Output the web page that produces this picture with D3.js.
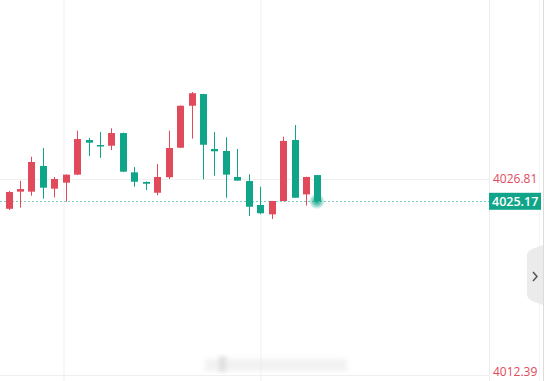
<!DOCTYPE html>
<html>
<head>
<meta charset="utf-8">
<script src="https://cdn.jsdelivr.net/npm/d3@7"></script>
<style>
  body { margin: 0; background: #fff; }
  svg { display: block; font-family: "Open Sans", "Noto Sans", sans-serif; }
</style>
</head>
<body>
<svg id="chart" width="556" height="381"></svg>
<script>
// candle data, oldest first
var opens  = [4024.62, 4025.88, 4025.88, 4027.77, 4026.10, 4026.54, 4027.13, 4029.68, 4029.31, 4029.26,
              4030.19, 4027.30, 4026.59, 4025.80, 4026.94, 4029.11, 4032.20, 4033.06, 4029.02, 4028.87,
              4026.96, 4026.66, 4024.90, 4024.21, 4025.19, 4029.68, 4025.68, 4027.10];
var closes = [4025.85, 4026.07, 4028.06, 4026.17, 4026.81, 4027.13, 4029.75, 4029.48, 4029.24, 4030.19,
              4027.35, 4026.61, 4026.46, 4026.96, 4029.09, 4032.20, 4033.12, 4029.33, 4028.85, 4027.13,
              4026.69, 4024.77, 4024.29, 4025.19, 4029.61, 4025.43, 4026.96, 4025.17];
var highs  = [4025.93, 4026.68, 4028.45, 4029.09, 4026.96, 4027.15, 4030.36, 4029.83, 4030.27, 4030.54,
              4030.22, 4027.69, 4026.63, 4027.91, 4030.36, 4032.22, 4033.21, 4033.08, 4030.27, 4029.88,
              4029.02, 4027.16, 4026.24, 4025.20, 4029.92, 4030.78, 4026.98, 4027.10];
var lows   = [4024.53, 4024.70, 4025.58, 4025.36, 4025.46, 4025.14, 4027.10, 4028.50, 4028.36, 4028.94,
              4027.32, 4026.24, 4026.00, 4025.61, 4026.81, 4029.09, 4029.78, 4026.79, 4027.05, 4025.43,
              4026.69, 4024.09, 4024.21, 4023.87, 4025.17, 4025.43, 4024.85, 4025.17];

var lastPrice = 4025.17;
var refPrice = 4026.81;   // red label with gridline
var lowLabel = 4012.39;   // bottom label
var priceLabels = [refPrice, lowLabel];

var red = '#e04a5a';
var green = '#10a589';

var width = 556, height = 381;
var plotRight = 489;

var svg = d3.select('#chart');

var x = d3.scaleLinear().domain([0, opens.length - 1]).range([8.5, 317.4]);
var y = d3.scaleLinear().domain([lowLabel, refPrice]).range([375, 179]);

// gradient for the glowing last point
var defs = svg.append('defs');
var grad = defs.append('radialGradient').attr('id', 'glow');
grad.append('stop').attr('offset', '0%').attr('stop-color', green).attr('stop-opacity', 0.95);
grad.append('stop').attr('offset', '45%').attr('stop-color', green).attr('stop-opacity', 0.6);
grad.append('stop').attr('offset', '100%').attr('stop-color', green).attr('stop-opacity', 0);
defs.append('filter').attr('id', 'blur')
  .append('feGaussianBlur').attr('stdDeviation', 2.5);

// grid
var grid = svg.append('g');
[64, 261].forEach(function (gx) {
  grid.append('line').attr('x1', gx).attr('x2', gx).attr('y1', 0).attr('y2', height)
    .attr('stroke', '#f1f1f1').attr('stroke-width', 1);
});
priceLabels.forEach(function (p) {
  grid.append('line').attr('x1', 0).attr('x2', plotRight)
    .attr('y1', Math.round(y(p)) + 0.5).attr('y2', Math.round(y(p)) + 0.5)
    .attr('stroke', '#efefef').attr('stroke-width', 1);
});

// faint watermark at the bottom
var wm = svg.append('g').attr('filter', 'url(#blur)').attr('opacity', 0.5);
wm.append('rect').attr('x', 205).attr('y', 359).attr('width', 142).attr('height', 12)
  .attr('fill', '#e4e4e4');
wm.append('rect').attr('x', 219).attr('y', 356).attr('width', 7).attr('height', 16)
  .attr('fill', '#bdbdbd');

// last price dashed line
svg.append('line')
  .attr('x1', 0).attr('x2', plotRight)
  .attr('y1', Math.round(y(lastPrice)) + 0.5).attr('y2', Math.round(y(lastPrice)) + 0.5)
  .attr('stroke', '#7ccdbd').attr('stroke-width', 1)
  .attr('stroke-dasharray', '2,2');

// candles
var idx = d3.range(opens.length);
var bodyW = 7;
var candles = svg.append('g').selectAll('g').data(idx).enter().append('g');

candles.append('line')
  .attr('x1', function (i) { return Math.round(x(i)) + 0.5; })
  .attr('x2', function (i) { return Math.round(x(i)) + 0.5; })
  .attr('y1', function (i) { return y(highs[i]); })
  .attr('y2', function (i) { return y(lows[i]); })
  .attr('stroke', function (i) { return closes[i] >= opens[i] ? red : green; })
  .attr('stroke-width', 1);

candles.append('rect')
  .attr('x', function (i) { return Math.round(x(i)) + 0.5 - bodyW / 2; })
  .attr('width', bodyW)
  .attr('y', function (i) { return y(Math.max(opens[i], closes[i])); })
  .attr('height', function (i) { return Math.max(1.5, Math.abs(y(opens[i]) - y(closes[i]))); })
  .attr('fill', function (i) { return closes[i] >= opens[i] ? red : green; });

// glow at last close
svg.append('circle')
  .attr('cx', x(opens.length - 1) - 0.5).attr('cy', y(lastPrice))
  .attr('r', 8).attr('fill', 'url(#glow)');

// price axis area
svg.append('line').attr('x1', plotRight + 0.5).attr('x2', plotRight + 0.5)
  .attr('y1', 0).attr('y2', height).attr('stroke', '#ececec');
svg.append('line').attr('x1', 539.5).attr('x2', 539.5)
  .attr('y1', 0).attr('y2', height).attr('stroke', '#f4f4f4');
svg.append('line').attr('x1', 543.5).attr('x2', 543.5)
  .attr('y1', 0).attr('y2', height).attr('stroke', '#dcdcdc');

var axisG = svg.append('g');
axisG.selectAll('text.lbl').data(priceLabels).enter().append('text')
  .attr('class', 'lbl')
  .attr('x', 493)
  .attr('y', function (p) { return Math.min(y(p) + 1, 373); })
  .attr('dominant-baseline', 'middle')
  .attr('font-size', 12)
  .attr('fill', red)
  .text(function (p) { return p.toFixed(2); });

axisG.append('rect')
  .attr('x', 489).attr('y', y(lastPrice) - 8.5)
  .attr('width', 52).attr('height', 17)
  .attr('fill', green);
axisG.append('text')
  .attr('x', 492).attr('y', y(lastPrice) + 1)
  .attr('dominant-baseline', 'middle')
  .attr('font-size', 12.5)
  .attr('font-weight', 600)
  .attr('fill', '#fff')
  .text(lastPrice.toFixed(2));

// collapse tab on the right
svg.append('path')
  .attr('d', 'M543,245 L532,249 Q527,251 527,256 L527,294 Q527,299 532,301 L543,305 Z')
  .attr('fill', '#ebebeb');
svg.append('path')
  .attr('d', 'M533,272 L537,276.5 L533,281')
  .attr('fill', 'none').attr('stroke', '#555').attr('stroke-width', 1.5);
</script>
</body>
</html>
